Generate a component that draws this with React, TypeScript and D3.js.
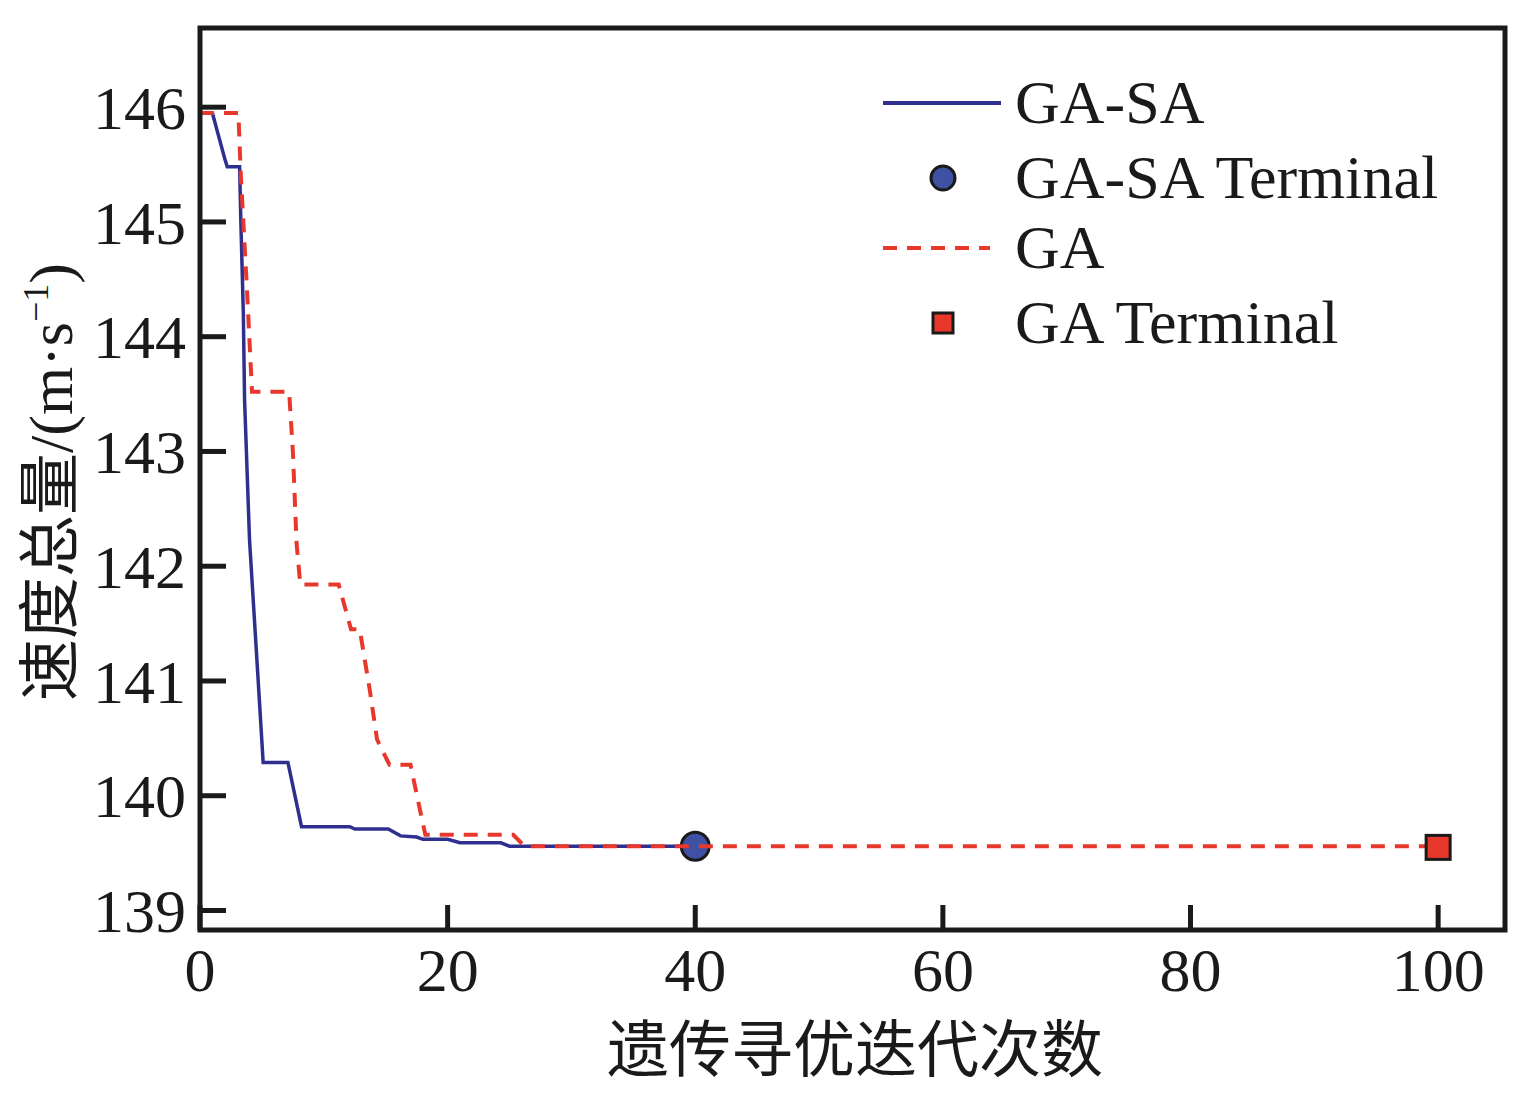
import React from "react";
import * as d3 from "d3";

const gasaX = [0, 1, 2, 2.2, 3.2, 3.3, 3.5, 3.6, 4.0, 4.7, 5.1, 7.1, 8.2, 12.1, 12.5, 15.2, 16.2, 17.5, 18, 20, 21, 24.3, 25, 40];
const gasaY = [145.95, 145.95, 145.55, 145.48, 145.48, 145.0, 144.2, 143.45, 142.23, 141.0, 140.29, 140.29, 139.73, 139.73, 139.71, 139.71, 139.65, 139.64, 139.62, 139.62, 139.59, 139.59, 139.56, 139.56];

const gaX = [0, 3.1, 3.3, 3.8, 4.2, 7.2, 7.5, 7.8, 8.1, 11.2, 12.2, 12.9, 13.7, 14.3, 15.3, 17, 17.8, 18.2, 25.3, 26.2, 100];
const gaY = [145.95, 145.95, 145.4, 144.4, 143.52, 143.52, 143.0, 142.2, 141.84, 141.84, 141.45, 141.45, 140.93, 140.49, 140.27, 140.27, 139.86, 139.66, 139.66, 139.56, 139.56];

const gasaTerminal = [40, 139.56];
const gaTerminal = [100, 139.55];

const xTicks = [0, 20, 40, 60, 80, 100];
const yTicks = [139, 140, 141, 142, 143, 144, 145, 146];

const legendLabels = ["GA-SA", "GA-SA Terminal", "GA", "GA Terminal"];

const BLUE = "#2f2f8f";
const BLUE_FILL = "#3f51a3";
const RED = "#e8382b";
const INK = "#1a1a1a";
const SERIF = "'Liberation Serif', 'Times New Roman', serif";
const CJK = "'Liberation Serif', 'Noto Sans CJK SC', serif";

export default function App() {
  const left = 200, right = 1505, top = 28, bottom = 930;
  const x = d3.scaleLinear().domain([0, 105.4]).range([left, right]);
  const y = d3.scaleLinear().domain([138.83, 146.69]).range([bottom, top]);

  const line = d3.line<[number, number]>().x((d) => x(d[0])).y((d) => y(d[1]));
  const gasaPts = gasaX.map((v, i) => [v, gasaY[i]] as [number, number]);
  const gaPts = gaX.map((v, i) => [v, gaY[i]] as [number, number]);

  const legendRowY = [103, 178, 248, 323];

  return (
    <svg width={1539} height={1096} style={{ position: "absolute", left: 0, top: 0, background: "#fff" }}>
      <rect x={0} y={0} width={1539} height={1096} fill="#fff" />
      {/* lines */}
      <path d={line(gasaPts) || ""} fill="none" stroke={BLUE} strokeWidth={3.5} />
      <circle cx={x(gasaTerminal[0])} cy={y(gasaTerminal[1])} r={14} fill={BLUE_FILL} stroke={INK} strokeWidth={3} />
      <path d={line(gaPts) || ""} fill="none" stroke={RED} strokeWidth={4} strokeDasharray="14 10" />
      <rect x={x(gaTerminal[0]) - 12} y={y(gaTerminal[1]) - 12} width={24} height={24} fill={RED} stroke={INK} strokeWidth={3} />

      {/* frame */}
      <rect x={left} y={top} width={right - left} height={bottom - top} fill="none" stroke={INK} strokeWidth={5} />
      {yTicks.map((t) => (
        <g key={"y" + t}>
          <line x1={left} x2={left + 26} y1={y(t)} y2={y(t)} stroke={INK} strokeWidth={5} />
          <text x={186} y={y(t)} dy="0.35em" textAnchor="end" fontFamily={SERIF} fontSize={62} fill={INK}>
            {t}
          </text>
        </g>
      ))}
      {xTicks.map((t) => (
        <g key={"x" + t}>
          <line x1={x(t)} x2={x(t)} y1={bottom} y2={bottom - 25} stroke={INK} strokeWidth={5} />
          <text x={x(t)} y={991} textAnchor="middle" fontFamily={SERIF} fontSize={62} fill={INK}>
            {t}
          </text>
        </g>
      ))}

      {/* axis titles */}
      <text x={855} y={1072} textAnchor="middle" fontFamily={CJK} fontSize={62} fill={INK}>
        遗传寻优迭代次数
      </text>
      <text
        transform="translate(72,482) rotate(-90)"
        textAnchor="middle"
        fontFamily={CJK}
        fontSize={62}
        fill={INK}
      >
        <tspan fontFamily="'Noto Sans CJK SC'">速度总量</tspan>
        <tspan fontFamily={SERIF}>/(m·s</tspan>
        <tspan fontFamily={SERIF} fontSize={36} dy={-24}>−1</tspan>
        <tspan fontFamily={SERIF} dy={24}>)</tspan>
      </text>

      {/* legend */}
      <line x1={883} x2={1001} y1={legendRowY[0]} y2={legendRowY[0]} stroke={BLUE} strokeWidth={4} />
      <circle cx={943} cy={legendRowY[1]} r={12} fill={BLUE_FILL} stroke={INK} strokeWidth={3} />
      <line x1={883} x2={990} y1={legendRowY[2]} y2={legendRowY[2]} stroke={RED} strokeWidth={4} strokeDasharray="14 10" />
      <rect x={933} y={legendRowY[3] - 10} width={20} height={20} fill={RED} stroke={INK} strokeWidth={3} />
      {legendLabels.map((l, i) => (
        <text key={l} x={1015} y={legendRowY[i]} dy="0.33em" fontFamily={SERIF} fontSize={62} fill={INK}>
          {l}
        </text>
      ))}
    </svg>
  );
}
